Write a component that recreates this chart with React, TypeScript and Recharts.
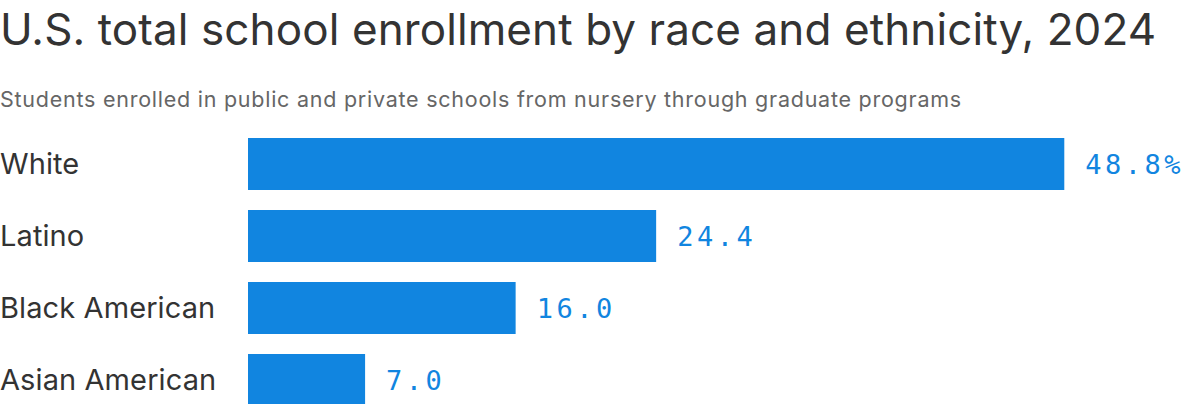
import React from "react";
import { BarChart, Bar, XAxis, YAxis, LabelList } from "recharts";

const categories = ["White", "Latino", "Black American", "Asian American"];
const shares = [48.8, 24.4, 16.0, 7.0];

const data = categories.map((name, i) => ({ name, value: shares[i] }));

const BLUE = "#1185e0";
const SANS = "Inter, 'Noto Sans', sans-serif";
const MONO = "'DejaVu Sans Mono', 'Liberation Mono', monospace";

function CategoryTick(props: any) {
  const { y, payload } = props;
  return (
    <text x={0} y={y + 10} fill="#333" fontSize={29} fontFamily={SANS} letterSpacing={0.1} textAnchor="start">
      {payload.value}
    </text>
  );
}

function ValueLabel(props: any) {
  const { x, y, width, height, value, index } = props;
  const txt = Number(value).toFixed(1) + (index === 0 ? "%" : "");
  return (
    <text
      x={x + width + 21}
      y={y + height / 2 + 10}
      fill={BLUE}
      fontSize={27}
      fontFamily={MONO}
      letterSpacing={3.5}
    >
      {txt}
    </text>
  );
}

export default function App() {
  return (
    <div style={{ position: "fixed", left: 0, top: 0, width: 1200, height: 404, overflow: "hidden", background: "#fff" }}>
      <svg width={1200} height={128} style={{ position: "absolute", left: 0, top: 0 }}>
        <text x={0} y={45} fill="#333" fontSize={44} fontFamily={SANS} letterSpacing={0.1}>
          U.S. total school enrollment by race and ethnicity, 2024
        </text>
        <text x={0} y={107} fill="#666" fontSize={21.5} fontFamily={SANS} letterSpacing={0.75}>
          Students enrolled in public and private schools from nursery through graduate programs
        </text>
      </svg>
      <div style={{ position: "absolute", left: 0, top: 128 }}>
        <BarChart
          width={1200}
          height={288}
          data={data}
          layout="vertical"
          margin={{ top: 0, right: 32, bottom: 0, left: 0 }}
        >
          <XAxis type="number" domain={[0, 55]} hide />
          <YAxis
            type="category"
            dataKey="name"
            width={248}
            axisLine={false}
            tickLine={false}
            tick={<CategoryTick />}
          />
          <Bar dataKey="value" fill={BLUE} barSize={52} isAnimationActive={false}>
            <LabelList dataKey="value" content={<ValueLabel />} />
          </Bar>
        </BarChart>
      </div>
    </div>
  );
}
